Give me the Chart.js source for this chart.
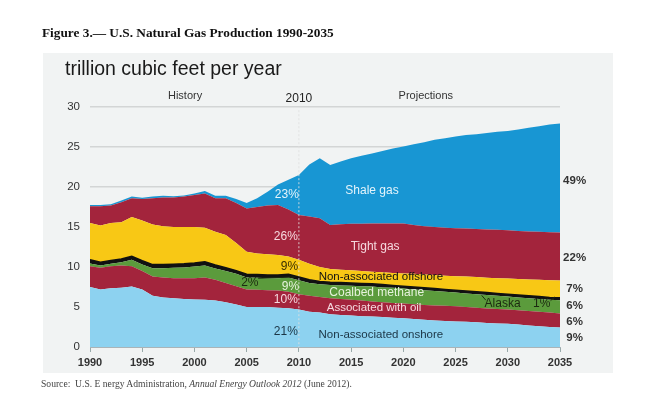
<!DOCTYPE html>
<html>
<head>
<meta charset="utf-8">
<script src="https://cdn.jsdelivr.net/npm/chart.js@4.4.1/dist/chart.umd.min.js"></script>
<style>
  body { margin: 0; background: #fff; }
  #wrap { position: relative; width: 668px; height: 398px; }
  #title { position: absolute; left: 42px; top: 25px; font: bold 13.3px "Liberation Serif", serif; color: #111; white-space: nowrap; }
  #unit { position: absolute; left: 65px; top: 57px; font: 19.5px "Liberation Sans", Arial, sans-serif; color: #1a1a1a; white-space: nowrap; }
  #source { position: absolute; left: 41px; top: 378px; font: 9.6px "Liberation Serif", serif; color: #444; white-space: nowrap; }
</style>
</head>
<body>
<div id="wrap">
  <canvas id="gasChart"></canvas>
  <div id="title">Figure 3.— U.S. Natural Gas Production 1990-2035</div>
  <div id="unit">trillion cubic feet per year</div>
  <div id="source">Source:&nbsp; U.S. E nergy Administration, <i>Annual Energy Outlook 2012</i> (June 2012).</div>
</div>
<script>
// anos 1990-2035
const years = [1990,1991,1992,1993,1994,1995,1996,1997,1998,1999,2000,2001,2002,2003,2004,2005,2006,2007,2008,2009,
  2010,2011,2012,2013,2014,2015,2016,2017,2018,2019,2020,2021,2022,2023,2024,2025,2026,2027,2028,2029,2030,2031,2032,2033,2034,2035];

// capas apiladas, de abajo hacia arriba (trillion cubic feet)
const onshore = [7.5,7.2,7.35,7.4,7.55,7.2,6.4,6.2,6.1,6.0,5.95,5.9,5.8,5.6,5.3,5.0,5.0,5.0,4.9,4.85,
  4.7,4.4,4.3,4.1,4.0,3.95,3.85,3.8,3.75,3.65,3.6,3.5,3.4,3.3,3.25,3.2,3.15,3.1,3.0,2.95,2.9,2.8,2.7,2.6,2.5,2.45];
const assocOil = [2.6,2.7,2.75,2.8,2.55,2.3,2.4,2.5,2.5,2.6,2.65,2.8,2.6,2.4,2.3,2.2,2.15,2.1,2.15,2.05,
  1.9,2.0,1.95,2.0,2.0,1.95,1.95,1.9,1.85,1.85,1.85,1.85,1.85,1.9,1.9,1.9,1.85,1.8,1.8,1.8,1.8,1.8,1.8,1.8,1.8,1.75];
const coalbed = [0.35,0.3,0.3,0.4,0.8,0.8,1.05,1.15,1.3,1.35,1.45,1.5,1.4,1.5,1.55,1.5,1.5,1.5,1.55,1.8,
  1.75,1.6,1.6,1.65,1.7,1.75,1.8,1.85,1.85,1.9,1.85,1.85,1.85,1.8,1.75,1.7,1.7,1.7,1.7,1.65,1.6,1.6,1.6,1.6,1.6,1.65];
const alaska = [0.45,0.4,0.4,0.4,0.45,0.5,0.45,0.45,0.45,0.45,0.45,0.45,0.45,0.4,0.4,0.4,0.4,0.4,0.4,0.4,
  0.4,0.4,0.35,0.35,0.35,0.35,0.35,0.35,0.35,0.3,0.3,0.3,0.3,0.3,0.3,0.3,0.3,0.3,0.3,0.3,0.3,0.3,0.3,0.3,0.3,0.3];
const offshore = [4.6,4.6,4.7,4.6,4.9,5.0,5.0,4.8,4.65,4.6,4.5,4.25,4.15,4.1,3.45,2.8,2.65,2.6,2.5,2.2,
  2.15,2.0,1.8,1.65,1.6,1.6,1.55,1.5,1.55,1.55,1.6,1.65,1.65,1.7,1.7,1.75,1.8,1.85,1.85,1.9,1.95,2.0,2.05,2.1,2.15,2.15];
const tight = [2.1,2.4,2.2,2.5,2.35,2.7,3.3,3.6,3.7,3.8,4.0,4.3,4.2,4.6,5.0,5.4,5.8,6.1,6.25,5.9,
  5.6,5.9,6.1,5.5,5.7,5.8,5.9,6.05,6.1,6.2,6.25,6.1,6.05,6.0,6.0,6.0,6.0,6.0,6.05,6.05,6.05,6.0,6.0,6.0,6.0,6.0];
const shale = [0.15,0.15,0.15,0.2,0.2,0.15,0.2,0.2,0.15,0.15,0.2,0.3,0.3,0.3,0.5,0.7,1.1,1.7,2.55,3.7,
  5.0,6.5,7.5,7.5,7.85,8.2,8.5,8.75,9.05,9.35,9.6,10.1,10.5,10.9,11.2,11.45,11.7,11.85,12.05,12.25,12.4,12.7,12.95,13.2,13.45,13.65];

const seriesNames = ['Non-associated onshore','Associated with oil','Coalbed methane','Alaska','Non-associated offshore','Tight gas','Shale gas'];
const seriesData = [onshore, assocOil, coalbed, alaska, offshore, tight, shale];
const seriesColors = ['#8dd2f0','#a3243c','#5b9b3c','#111111','#f8c815','#a3243c','#1896d3'];

// etiquetas dentro del grafico: [texto, ano, valor, color, tamano]
const areaLabels = [
  ['History', 1999.1, 31.4, '#333', 11],
  ['2010', 2010, 31.0, '#222', 12],
  ['Projections', 2022.15, 31.4, '#333', 11],
  ['Shale gas', 2017.0, 19.5, '#e4f4fb', 12],
  ['23%', 2008.85, 19.0, '#e4f4fb', 12],
  ['26%', 2008.75, 13.75, '#f6d9df', 12],
  ['Tight gas', 2017.3, 12.5, '#f6d9df', 12],
  ['9%', 2009.1, 10.0, '#3a3000', 12],
  ['Non-associated offshore', 2017.85, 8.75, '#111', 11.5],
  ['2%', 2005.3, 8.0, '#1c2a10', 12],
  ['9%', 2009.2, 7.6, '#e6f2dc', 12],
  ['Coalbed methane', 2017.45, 6.75, '#e6f2dc', 12],
  ['10%', 2008.75, 5.9, '#f6d9df', 12],
  ['Associated with oil', 2017.2, 4.9, '#f6d9df', 11.5],
  ['21%', 2008.75, 1.9, '#1b3545', 12],
  ['Non-associated onshore', 2017.85, 1.5, '#1b3545', 11.5],
  ['Alaska', 2029.5, 5.4, '#1c2a10', 12],
  ['1%', 2033.25, 5.4, '#1c2a10', 12]
];
// porcentajes 2035 a la derecha
const shareLabels = ['49%','22%','7%','6%','6%','9%'];
const shareValues = [20.75, 11.1, 7.25, 5.1, 3.1, 1.1];
// lineas guia [ano1, valor1, ano2, valor2]
const leaderLines = [
  [2006.1, 8.6, 2009.6, 8.75],
  [2027.5, 6.45, 2027.9, 5.85],
  [2034.1, 5.8, 2034.5, 6.25]
];

const datasets = seriesData.map((vals, i) => ({
  label: seriesNames[i],
  data: years.map((yr, j) => ({ x: yr, y: vals[j] })),
  backgroundColor: seriesColors[i],
  borderColor: seriesColors[i],
  borderWidth: i === 3 ? 1.5 : 0,
  fill: i === 0 ? 'origin' : '-1',
  pointRadius: 0,
  tension: 0
}));

const panelPlugin = {
  id: 'panel',
  beforeDraw(chart) {
    const ctx = chart.ctx;
    ctx.save();
    ctx.fillStyle = '#f1f3f3';
    ctx.fillRect(43, 53, 570, 320);
    ctx.restore();
  }
};

const notesPlugin = {
  id: 'notes',
  afterDatasetsDraw(chart) {
    const ctx = chart.ctx;
    const xs = chart.scales.x, ys = chart.scales.y;
    ctx.save();
    // linea punteada 2010
    ctx.strokeStyle = 'rgba(225,225,225,0.85)';
    ctx.lineWidth = 1;
    ctx.setLineDash([2, 2]);
    ctx.beginPath();
    ctx.moveTo(xs.getPixelForValue(2010), ys.getPixelForValue(29.6));
    ctx.lineTo(xs.getPixelForValue(2010), ys.getPixelForValue(0));
    ctx.stroke();
    ctx.setLineDash([]);

    ctx.strokeStyle = '#1c2a10';
    ctx.lineWidth = 1;
    leaderLines.forEach(l => {
      ctx.beginPath();
      ctx.moveTo(xs.getPixelForValue(l[0]), ys.getPixelForValue(l[1]));
      ctx.lineTo(xs.getPixelForValue(l[2]), ys.getPixelForValue(l[3]));
      ctx.stroke();
    });

    ctx.textAlign = 'center';
    ctx.textBaseline = 'middle';
    areaLabels.forEach(l => {
      ctx.font = l[4] + 'px "Liberation Sans", Arial, sans-serif';
      ctx.fillStyle = l[3];
      ctx.fillText(l[0], xs.getPixelForValue(l[1]), ys.getPixelForValue(l[2]));
    });
    ctx.font = 'bold 11.5px "Liberation Sans", Arial, sans-serif';
    ctx.fillStyle = '#333';
    shareLabels.forEach((t, i) => {
      ctx.fillText(t, xs.getPixelForValue(2036.4), ys.getPixelForValue(shareValues[i]));
    });
    ctx.restore();
  }
};

new Chart(document.getElementById('gasChart'), {
  type: 'line',
  data: { datasets: datasets },
  options: {
    responsive: true,
    maintainAspectRatio: false,
    animation: false,
    layout: { padding: { left: 0, right: 108, top: 107, bottom: 0 } },
    plugins: { legend: { display: false }, tooltip: { enabled: false } },
    scales: {
      x: {
        type: 'linear',
        min: 1990,
        max: 2035,
        afterFit: s => { s.height = 51; },
        ticks: {
          stepSize: 5,
          padding: 4,
          color: '#333',
          font: { family: '"Liberation Sans", Arial, sans-serif', size: 11, weight: 'bold' },
          callback: v => String(v)
        },
        grid: { drawOnChartArea: false, drawTicks: true, tickLength: 5, color: '#9aa' },
        border: { color: '#aab4b8', width: 1 }
      },
      y: {
        stacked: true,
        min: 0,
        max: 30,
        afterFit: s => { s.width = 90; },
        ticks: {
          stepSize: 5,
          padding: 10,
          color: '#333',
          font: { family: '"Liberation Sans", Arial, sans-serif', size: 11.5 }
        },
        grid: { color: '#d3d5d5', lineWidth: 1.5, drawTicks: false },
        border: { display: false }
      }
    }
  },
  plugins: [panelPlugin, notesPlugin]
});
</script>
</body>
</html>
